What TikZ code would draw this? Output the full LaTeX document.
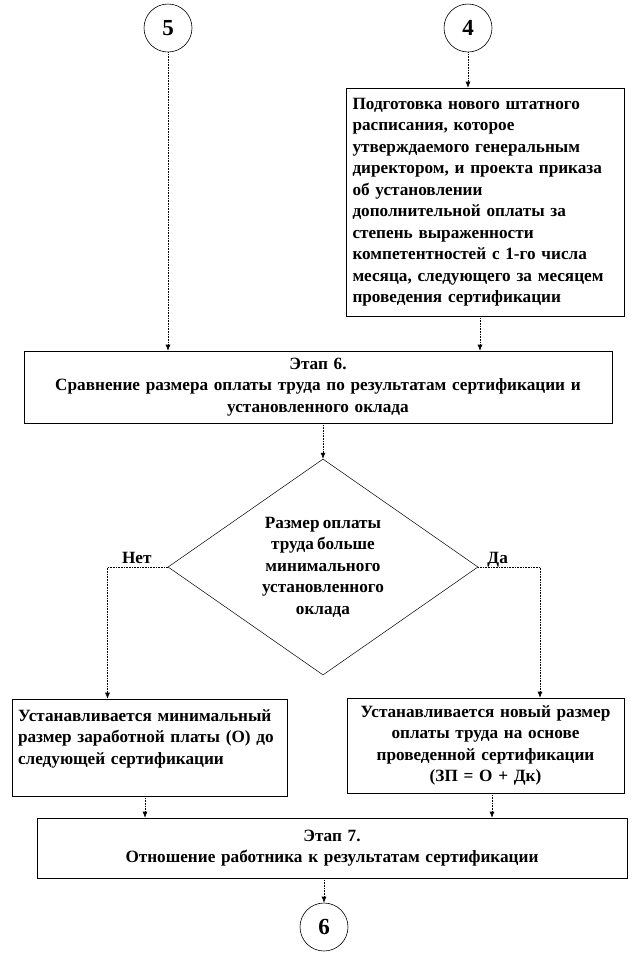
\documentclass[tikz,border=0pt]{standalone}
\usepackage{fontspec}
\setmainfont{Liberation Serif}[WordSpace=0.75]
\usetikzlibrary{positioning,shapes.geometric,arrows.meta}

\tikzset{
  txt/.style={font=\bfseries\fontsize{17.2}{21.5}\selectfont},
  blk/.style={txt, draw, line width=0.6pt, inner sep=0pt},
  num/.style={circle, draw, line width=0.6pt, minimum size=48pt, inner sep=0pt,
    font=\bfseries\fontsize{23}{24}\selectfont},
  cond/.style={txt, diamond, draw, line width=0.5pt, inner sep=0pt,
    minimum width=310pt, minimum height=216pt, aspect=1.435, align=center},
  conn/.style={densely dotted, line width=0.6pt, -{Latex[length=6pt,width=5pt]}},
  lbl/.style={txt, inner sep=0pt}
}

\begin{document}
\begin{tikzpicture}[x=1pt, y=-1pt]
  \useasboundingbox (0,0) rectangle (636,975);

  \node[num] (c5) at (168,28) {5};
  \node[num] (c4) at (468,28) {4};
  \node[blk, text width=266pt, inner xsep=6pt, minimum height=228pt, align=left]
    (prep) at (485.5,202) {Подготовка нового штатного\\ расписания, которое\\
    утверждаемого генеральным\\ директором, и проекта приказа\\ об установлении\\
    дополнительной оплаты за\\ степень выраженности\\ компетентностей с 1-го числа\\
    месяца, следующего за месяцем\\ проведения сертификации};
  \node[blk, text width=588pt, minimum height=72pt, align=center]
    (st6) at (318,387) {Этап 6.\\ Сравнение размера оплаты труда по результатам сертификации и\\
    установленного оклада};
  \node[blk, text width=263pt, inner xsep=6pt, minimum height=97pt, align=left]
    (minpay) at (149.5,747.5) {Устанавливается минимальный\\ размер заработной платы (О) до\\
    следующей сертификации\\ \mbox{}};
  \node[blk, text width=277pt, minimum height=95pt, align=center]
    (newpay) at (485.5,745.5) {Устанавливается новый размер\\ оплаты труда на основе\\
    проведенной сертификации\\ (ЗП = О + Дк)};
  \node[cond] (cmp) at (323,567) {Размер оплаты\\ труда больше\\ минимального\\
    установленного\\ оклада};
  \node[blk, text width=590pt, minimum height=60pt, align=center]
    (st7) at (332,848) {Этап 7.\\ Отношение работника к результатам сертификации};
  \node[num] (c6) at (324,927) {6};

  \node[lbl, anchor=base east, xshift=-16pt, yshift=4pt] (no) at (cmp.west) {Нет};
  \node[lbl, anchor=base west, xshift=9pt, yshift=4pt] (yes) at (cmp.east) {Да};

  \coordinate (p1) at ([xshift=-5.5pt]prep.south);
  \coordinate (m1) at ([xshift=-4.5pt]minpay.south);
  \coordinate (n1) at ([xshift=6.5pt]newpay.south);

  \draw[conn] (c5) -- (c5 |- st6.north);
  \draw[conn] (c4) -- (c4 |- prep.north);
  \draw[conn] (p1) -- (p1 |- st6.north);
  \draw[conn] (cmp.north |- st6.south) -- (cmp.north);
  \draw[conn] (cmp.west) -| ([xshift=-42pt]minpay.north);
  \draw[conn] (cmp.east) -| ([xshift=54.5pt]newpay.north);
  \draw[conn] (m1) -- (m1 |- st7.north);
  \draw[conn] (n1) -- (n1 |- st7.north);
  \draw[conn] (c6 |- st7.south) -- (c6);
\end{tikzpicture}
\end{document}
